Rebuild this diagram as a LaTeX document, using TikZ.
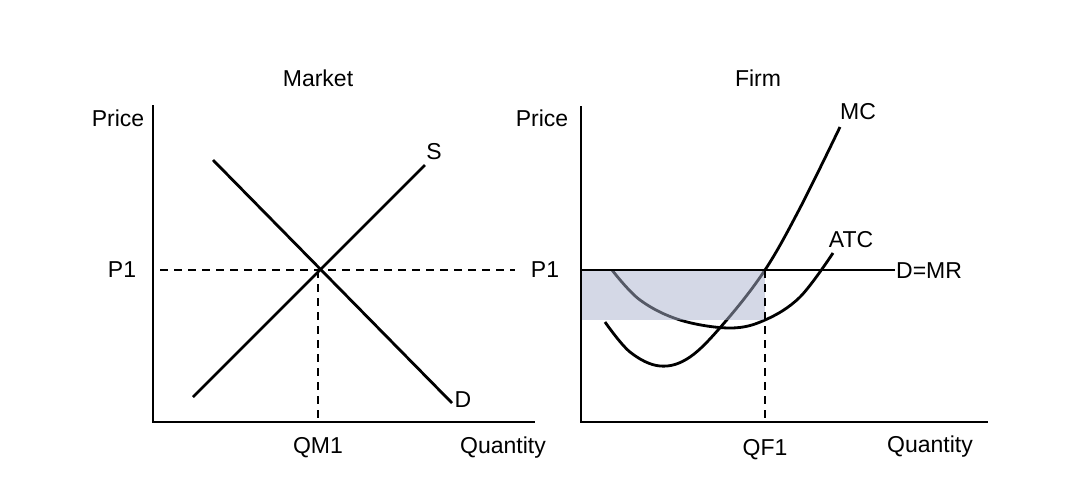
\documentclass[tikz,border=0pt]{standalone}
\usepackage{fontspec}
\setmainfont{Liberation Sans}
\begin{document}
\begin{tikzpicture}[x=1pt,y=-1pt,
  curve/.style={line width=2.8pt},
  axis/.style={line width=2.6pt},
  dashline/.style={line width=1.6pt,dash pattern=on 8pt off 6pt},
  lbl/.style={font=\fontsize{23}{27}\selectfont,inner sep=0pt}]
\useasboundingbox (0,0) rectangle (1074,480);
% Market
\coordinate (mO) at (153,422);
\coordinate (mTop) at (153,105);
\coordinate (mRight) at (535,422);
\draw[axis] (mTop) -- (mO) -- (mRight);
\node[lbl] (mt) at (318,78) {Market};
\node[lbl] (mp) at (118,118) {Price};
\node[lbl] (mq) at (503,448) {Quantity};
\coordinate (s0) at (193,397); \coordinate (s1) at (425,165);
\coordinate (d0) at (213,160); \coordinate (d1) at (452,403);
\draw[curve] (s0) -- (s1);
\draw[curve] (d0) -- (d1);
\node[lbl] (sl) at (434,152) {S};
\node[lbl] (dl) at (463,400) {D};
\coordinate (eq) at (318,270);
\coordinate (pl) at (160,270); \coordinate (pr) at (515,270);
\draw[dashline] (pl) -- (pr);
\draw[dashline] (eq) -- (318,422);
\node[lbl] (p1a) at (122,270) {P1};
\node[lbl] (p1b) at (545,270) {P1};
\node[lbl] (qm) at (318,448) {QM1};
% Firm
\coordinate (fO) at (581,422);
\coordinate (fTop) at (581,106);
\coordinate (fRight) at (988,422);
\draw[axis] (fTop) -- (fO) -- (fRight);
\node[lbl] (ft) at (758,78) {Firm};
\node[lbl] (fp) at (542,118) {Price};
\node[lbl] (fq) at (930,447) {Quantity};
\draw[curve] plot[smooth,tension=0.6] coordinates {(605,322) (630,352) (660,366) (690,357) (725,322) (765,270) (800,208) (840,127)};
\draw[curve] plot[smooth,tension=0.6] coordinates {(612,270) (640,300) (680,320) (730,328) (765,320) (800,297) (833,253)};
\draw[line width=2.4pt] (581,270) -- (895,270);
\node[lbl,anchor=west] (dmr) at (896,271) {D=MR};
\node[lbl] (mcl) at (858,112) {MC};
\node[lbl] (atc) at (851,240) {ATC};
\fill[fill={rgb,255:red,170;green,178;blue,205},fill opacity=0.5] (582,271) rectangle (765,320);
\draw[dashline] (765,270) -- (765,422);
\node[lbl] (qf) at (765,450) {QF1};
\end{tikzpicture}
\end{document}
